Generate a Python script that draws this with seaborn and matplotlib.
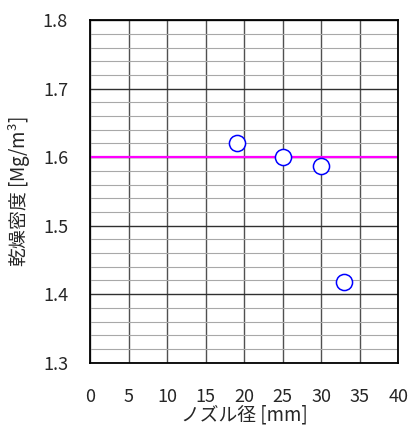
import matplotlib
matplotlib.use('Agg')
import matplotlib.pyplot as plt
from matplotlib.ticker import MultipleLocator
import seaborn as sns
import pandas as pd

# data
nozzle_mm = [19, 25, 30, 33]
dry_density = [1.621, 1.600, 1.587, 1.418]
target_density = 1.60

x_label = 'ノズル径 [mm]'
y_label = '乾燥密度 [Mg/m$^3$]'

sns.set_style('white')
plt.rcParams['font.family'] = ['Noto Sans CJK JP', 'DejaVu Sans']
plt.rcParams['mathtext.fontset'] = 'custom'
plt.rcParams['mathtext.rm'] = 'Noto Sans CJK JP'

df = pd.DataFrame({'d': nozzle_mm, 'rho': dry_density})

fig, ax = plt.subplots(figsize=(4.14, 4.37), dpi=100)
fig.subplots_adjust(left=0.218, right=0.962, top=0.954, bottom=0.17)

# grid
ax.yaxis.set_major_locator(MultipleLocator(0.1))
ax.yaxis.set_minor_locator(MultipleLocator(0.02))
ax.xaxis.set_major_locator(MultipleLocator(5))
ax.xaxis.set_minor_locator(MultipleLocator(1))
ax.grid(which='major', axis='y', color='#303030', lw=1.0)
ax.grid(which='minor', axis='y', color='#a8a8a8', lw=0.8)
ax.grid(which='major', axis='x', color='#505050', lw=1.0)
ax.set_axisbelow(True)

ax.axhline(target_density, color='#ff00ff', lw=1.6, zorder=2)
sns.scatterplot(data=df, x='d', y='rho', ax=ax, s=135, facecolor='white',
                edgecolor='#0000ff', linewidth=1.1, zorder=3)

ax.set_xlim(0, 40)
ax.set_ylim(1.3, 1.8)
ax.set_yticks([1.3, 1.4, 1.5, 1.6, 1.7, 1.8])
ax.set_yticklabels(['1.3', '1.4', '1.5', '1.6', '1.7', '1.8'])

ax.tick_params(which='both', direction='in', top=False, right=False)
ax.tick_params(which='major', axis='x', length=0, pad=18, labelsize=13)
ax.tick_params(which='minor', axis='x', length=4, width=0.8, color='black')
ax.tick_params(which='major', axis='y', length=5, width=0.8, pad=16, labelsize=13)
ax.tick_params(which='minor', axis='y', length=4, width=0.8, color='black')

for s in ax.spines.values():
    s.set_color('black')
    s.set_linewidth(1.3)

ax.set_xlabel(x_label, fontsize=13.5, labelpad=-1)
ax.set_ylabel(y_label, fontsize=13.5, labelpad=7)

fig.savefig('out.png', dpi=100)
